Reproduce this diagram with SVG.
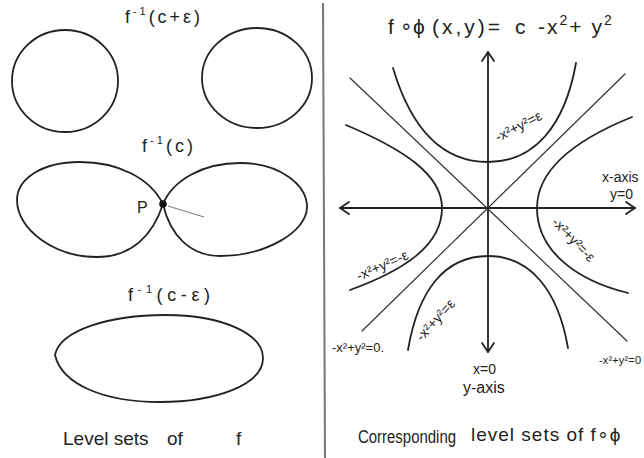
<svg xmlns="http://www.w3.org/2000/svg" width="644" height="458" viewBox="0 0 644 458">
<defs>
<style>
.ln{fill:none;stroke:#222;stroke-width:1.8;stroke-linecap:round;stroke-linejoin:round}
.thin{fill:none;stroke:#333;stroke-width:1.2;stroke-linecap:round}
.t{font-family:"Liberation Sans","DejaVu Sans",sans-serif;fill:#222}
.lbl{font-size:18px}
.sm{font-size:14px}
.ax{font-size:14px}
</style>
<marker id="arr" viewBox="-10 -7 12 14" markerWidth="12" markerHeight="14" refX="0" refY="0" orient="auto-start-reverse" markerUnits="userSpaceOnUse">
<path d="M-9,-6 L0,0 L-9,6" fill="none" stroke="#222" stroke-width="1.8" stroke-linecap="round" stroke-linejoin="round"/>
</marker>
</defs>
<rect width="644" height="458" fill="#fff"/>
<line x1="323" y1="3" x2="325" y2="458" stroke="#777" stroke-width="2"/>

<g id="level-c-plus-eps">
<text class="t lbl" x="125" y="23" textLength="75" lengthAdjust="spacing">f<tspan dy="-8" font-size="11">-1</tspan><tspan dy="8">(c+ε)</tspan></text>
<ellipse class="ln" cx="65" cy="81" rx="53" ry="51"/>
<ellipse class="ln" cx="257" cy="78" rx="55" ry="50"/>
</g>

<g id="level-c">
<text class="t lbl" x="142" y="152" textLength="51" lengthAdjust="spacing">f<tspan dy="-8" font-size="11">-1</tspan><tspan dy="8">(c)</tspan></text>
<path class="ln" d="M163,204 C150,178 118,162 80,162 C40,162 17,180 17,200 C17,230 55,257 97,257 C132,257 153,235 163,204 Z"/>
<path class="ln" d="M163,204 C173,180 203,163 240,163 C280,163 307,185 307,207 C307,232 265,256 220,256 C190,256 170,235 163,204 Z"/>
<circle cx="163" cy="204" r="3.8" fill="#111"/>
<line x1="168" y1="206" x2="204" y2="217" stroke="#666" stroke-width="0.9"/>
<text class="t" font-size="16" x="137" y="213">P</text>
</g>

<g id="level-c-minus-eps">
<text class="t lbl" x="128" y="301" textLength="82" lengthAdjust="spacing">f<tspan dy="-8" font-size="11">-1</tspan><tspan dy="8">(c-ε)</tspan></text>
<path class="ln" d="M55,355 C60,330 110,315 165,315 C225,315 263,335 263,358 C263,385 215,402 160,402 C105,402 62,385 55,355 Z"/>
</g>

<g id="caption-left">
<text class="t" font-size="19" x="63" y="445">Level sets</text>
<text class="t" font-size="19" x="167" y="445">of</text>
<text class="t" font-size="19" x="236" y="445">f</text>
</g>

<g id="title">
<text class="t" font-size="21" x="388" y="34">f</text>
<text class="t" font-size="20" x="400" y="33">∘</text>
<text class="t" font-size="21" x="413" y="34">ϕ</text>
<text class="t" font-size="21" x="432" y="34" letter-spacing="3">(x,y)=</text>
<text class="t" font-size="21" x="515" y="34">c</text>
<text class="t" font-size="21" x="538" y="34" letter-spacing="2">-x<tspan dy="-9" font-size="14">2</tspan><tspan dy="9">+ y</tspan><tspan dy="-9" font-size="14">2</tspan></text>
</g>

<g id="connectors">
<line class="ln" x1="488" y1="352" x2="488" y2="52" marker-start="url(#arr)" marker-end="url(#arr)"/>
<line class="ln" x1="340" y1="208" x2="635" y2="208" marker-start="url(#arr)" marker-end="url(#arr)"/>
<line class="thin" x1="350" y1="78" x2="627" y2="341"/>
<line class="thin" x1="625" y1="74" x2="362" y2="331"/>
</g>

<g id="hyperbola-top">
<path class="ln" d="M393,68 C410,125 440,162 488,162 C535,162 565,125 576,63"/>
<text class="t sm" transform="translate(498,142) rotate(-27)">-x²+y²=ε</text>
</g>
<g id="hyperbola-bottom">
<path class="ln" d="M408,350 C418,290 445,256 488,256 C530,256 558,290 568,348"/>
<text class="t sm" transform="translate(422,342) rotate(-48)">-x²+y²=ε</text>
</g>
<g id="hyperbola-left">
<path class="ln" d="M346,125 C405,150 442,175 442,208 C442,245 405,270 350,290"/>
<text class="t sm" transform="translate(359,281) rotate(-24)">-x²+y²=-ε</text>
</g>
<g id="hyperbola-right">
<path class="ln" d="M632,117 C575,140 537,170 537,208 C537,250 575,280 628,293"/>
<text class="t sm" transform="translate(551,223) rotate(46)">-x²+y²=-ε</text>
</g>

<text class="t" font-size="13" x="332" y="352">-x²+y²=0.</text>
<text class="t" font-size="11" x="599" y="364" textLength="42" lengthAdjust="spacing">-x²+y²=0</text>

<text class="t ax" x="602" y="182">x-axis</text>
<text class="t ax" x="610" y="199">y=0</text>
<text class="t ax" x="473" y="374">x=0</text>
<text class="t" font-size="16" x="463" y="393">y-axis</text>
<g id="caption-right">
<text class="t" font-size="18" x="358" y="443" textLength="98" lengthAdjust="spacingAndGlyphs">Corresponding</text>
<text class="t" font-size="19" x="471" y="441" letter-spacing="1">level sets of f∘ϕ</text>
</g>
</svg>
